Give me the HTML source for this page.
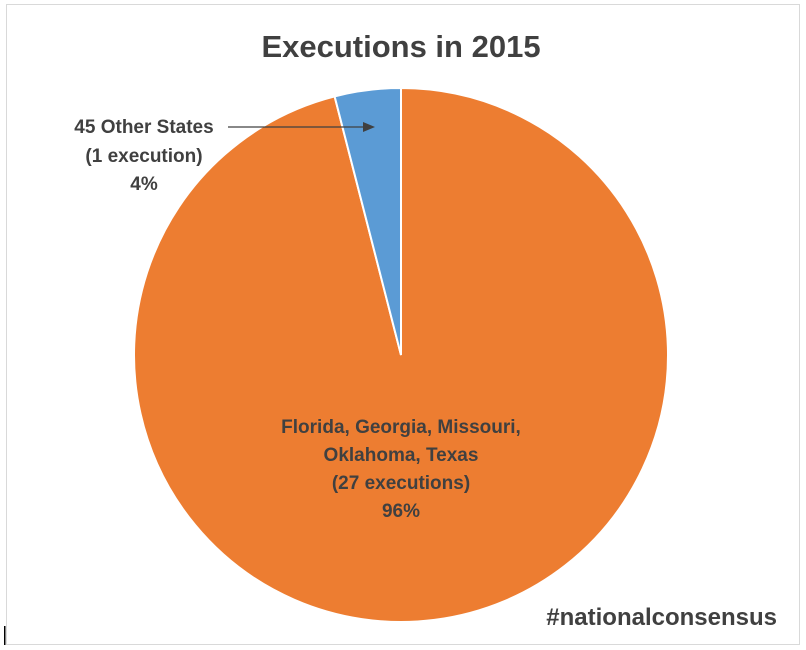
<!DOCTYPE html>
<html><head><meta charset="utf-8"><style>
html,body{margin:0;padding:0;background:#fff;}
svg{display:block;font-family:"Liberation Sans",sans-serif;}
</style></head><body>
<svg width="806" height="650" viewBox="0 0 806 650">
<rect x="6.5" y="4.5" width="793" height="640" fill="#fff" stroke="#d9d9d9"/>
<rect x="4" y="626" width="1.5" height="19" fill="#000"/>
<text x="401" y="57" text-anchor="middle" font-size="31" font-weight="bold" fill="#404040">Executions in 2015</text>
<g id="slices"></g>
<g id="labels" font-size="19" font-weight="bold" fill="#404040">
<text x="144" y="133" text-anchor="middle">45 Other States</text>
<text x="144" y="162" text-anchor="middle">(1 execution)</text>
<text x="144" y="190" text-anchor="middle">4%</text>
<line x1="228" y1="127" x2="364" y2="127" stroke="#404040" stroke-width="1.2"/>
<polygon points="375,127 363,122 363,132" fill="#404040"/>
<text x="401" y="433" text-anchor="middle">Florida, Georgia, Missouri,</text>
<text x="401" y="461" text-anchor="middle">Oklahoma, Texas</text>
<text x="401" y="489" text-anchor="middle">(27 executions)</text>
<text x="401" y="517" text-anchor="middle">96%</text>
</g>
<text x="777" y="625" text-anchor="end" font-size="24" font-weight="bold" fill="#404040">#nationalconsensus</text>
</svg>
<script>
const categories = ["Florida, Georgia, Missouri, Oklahoma, Texas", "45 Other States"];
const shares = [96, 4];
const colors = ["#ed7d31", "#5b9bd5"];
const cx = 401, cy = 355, r = 267;
const g = document.getElementById('slices');
const total = shares.reduce((a,b)=>a+b,0);
let start = 0;
shares.forEach((v,i)=>{
  const a0 = start/total*2*Math.PI, a1 = (start+v)/total*2*Math.PI;
  start += v;
  const x0 = cx + r*Math.sin(a0), y0 = cy - r*Math.cos(a0);
  const x1 = cx + r*Math.sin(a1), y1 = cy - r*Math.cos(a1);
  const large = (a1-a0) > Math.PI ? 1 : 0;
  const p = document.createElementNS('http://www.w3.org/2000/svg','path');
  p.setAttribute('d', `M${cx},${cy} L${x0},${y0} A${r},${r} 0 ${large} 1 ${x1},${y1} Z`);
  p.setAttribute('fill', colors[i]);
  p.setAttribute('stroke', '#fff');
  p.setAttribute('stroke-width', '2');
  
  
  g.appendChild(p);
});
</script>
</body></html>
